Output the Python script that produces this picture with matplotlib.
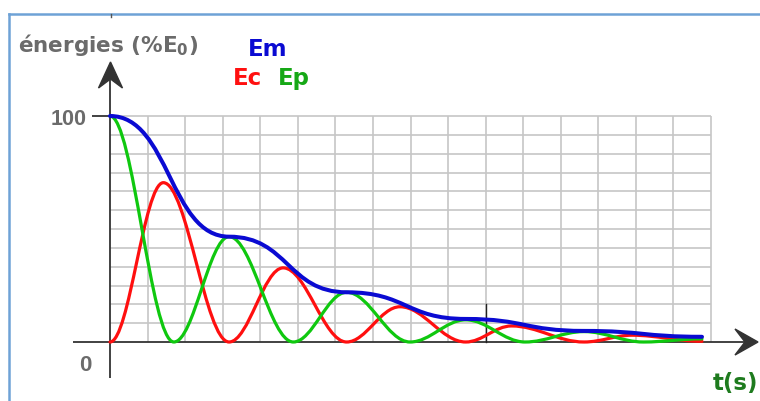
import numpy as np
import matplotlib
matplotlib.use("Agg")
import matplotlib.pyplot as plt
from matplotlib.path import Path
from matplotlib.patches import PathPatch, Polygon

# ---------------- data ----------------
# time in grid units (one vertical grid line per unit), energies in % of E0
# each point is an extremum / plateau of the curve (horizontal tangent)
t_ec = [0.0, 1.42, 3.17, 4.61, 6.30, 7.72, 9.47, 10.69, 12.62, 13.90, 15.76]
ec   = [0.0, 70.5, 0.0, 32.8, 0.0, 15.6, 0.0, 7.1, 0.0, 3.0, 0.3]

t_ep = [0.0, 1.70, 3.17, 4.88, 6.30, 7.99, 9.47, 11.05, 12.62, 14.20, 15.76]
ep   = [100.0, 0.0, 46.6, 0.0, 22.0, 0.0, 9.8, 0.0, 4.6, 0.0, 1.4]

t_em = [0.0, 3.17, 6.30, 9.47, 12.62, 15.76]
em   = [100.0, 46.6, 22.0, 10.2, 4.9, 2.3]

n_xgrid = 16          # vertical grid lines
n_ygrid = 12          # horizontal grid divisions between 0 and 100
y_max = 100
y_tick_labels = ["0", "100"]

# ---------------- figure / coordinate frame ----------------
W, H = 760, 401
PX_T0, PX_PER_T = 110.0, 37.5625
PY_V0, PX_PER_V = 342.0, 2.26

def fx(px):
    return (px - PX_T0) / PX_PER_T

def fy(py):
    return (PY_V0 - py) / PX_PER_V

fig = plt.figure(figsize=(W / 100, H / 100), dpi=100)
ax = fig.add_axes([0, 0, 1, 1])
ax.set_xlim(fx(0), fx(W))
ax.set_ylim(fy(H), fy(0))
ax.axis("off")

GRID = "#c6c6c6"
AXC = "#333333"
GRAY = "#6b6b6b"

# grid
ystep = y_max / n_ygrid
for k in range(1, n_xgrid + 1):
    ax.plot([k, k], [0, y_max], color=GRID, lw=1.2, zorder=1, solid_capstyle="butt")
for k in range(1, n_ygrid + 1):
    ax.plot([0, n_xgrid], [k * ystep, k * ystep], color=GRID, lw=1.2, zorder=1,
            solid_capstyle="butt")

# axes lines
ax.plot([0, 0], [fy(378), fy(80)], color=AXC, lw=1.3, zorder=2, solid_capstyle="butt")
ax.plot([fx(73), fx(748)], [0, 0], color=AXC, lw=1.3, zorder=2, solid_capstyle="butt")
ax.plot([fx(92), 0], [y_max, y_max], color=AXC, lw=1.3, zorder=2, solid_capstyle="butt")
ax.plot([10, 10], [0, 2 * ystep], color="#222222", lw=1.0, zorder=2)

# arrow heads
up = [(fx(110.5), fy(62)), (fx(98.5), fy(88)), (fx(110.5), fy(79)), (fx(122.5), fy(88))]
rt = [(fx(758), fy(342)), (fx(735), fy(329)), (fx(745), fy(342)), (fx(735), fy(355))]
ax.add_patch(Polygon(up, closed=True, color=AXC, zorder=3))
ax.add_patch(Polygon(rt, closed=True, color=AXC, zorder=3))

# frame (light blue border, cut by the image edges)
fig.add_artist(plt.Line2D([8.5 / W, 8.5 / W], [0, 1 - 13.5 / H],
                          transform=fig.transFigure, color="#6ea2d6", lw=1.8))
fig.add_artist(plt.Line2D([8.5 / W, 1], [1 - 13.5 / H, 1 - 13.5 / H],
                          transform=fig.transFigure, color="#6ea2d6", lw=1.8))
fig.add_artist(plt.Line2D([110.5 / W, 110.5 / W], [1 - 13.5 / H, 1 - 16.5 / H],
                          transform=fig.transFigure, color="#555555", lw=1.0))

# ---------------- smooth curves: Bezier segments with horizontal tangents ----------------
def smooth_path(t, v, handle):
    verts = [(t[0], v[0])]
    codes = [Path.MOVETO]
    for k in range(len(v) - 1):
        hk = t[k + 1] - t[k]
        verts += [(t[k] + handle * hk, v[k]),
                  (t[k + 1] - handle * hk, v[k + 1]),
                  (t[k + 1], v[k + 1])]
        codes += [Path.CURVE4] * 3
    return Path(verts, codes)

ax.add_patch(PathPatch(smooth_path(t_ec, ec, 0.363), fill=False, edgecolor="#ff0f0f",
                       lw=2.3, zorder=4, capstyle="round", joinstyle="round"))
ax.add_patch(PathPatch(smooth_path(t_ep, ep, 0.363), fill=False, edgecolor="#0fc80f",
                       lw=2.3, zorder=5, capstyle="round", joinstyle="round"))
ax.add_patch(PathPatch(smooth_path(t_em, em, 0.5), fill=False, edgecolor="#0a0ad2",
                       lw=2.9, zorder=6, capstyle="round", joinstyle="round"))

# ---------------- texts ----------------
plt.rcParams["mathtext.fontset"] = "dejavusans"
ax.text(fx(18), fy(52), r"énergies (%E$_\mathbf{0}$)", fontsize=15.5, fontweight="bold",
        family="DejaVu Sans", color=GRAY, ha="left", va="baseline")
ax.text(fx(248), fy(56), "Em", fontsize=16.5, fontweight="bold", family="DejaVu Sans",
        color="#0a0ad2", ha="left", va="baseline")
ax.text(fx(233), fy(85), "Ec", fontsize=16.5, fontweight="bold", family="DejaVu Sans",
        color="#ff1010", ha="left", va="baseline")
ax.text(fx(278), fy(85), "Ep", fontsize=16.5, fontweight="bold", family="DejaVu Sans",
        color="#16a816", ha="left", va="baseline")
ax.text(fx(87), fy(125), y_tick_labels[1], fontsize=15.5, fontweight="bold",
        family="Liberation Sans", color=GRAY, ha="right", va="baseline")
ax.text(fx(92), fy(371), y_tick_labels[0], fontsize=16, fontweight="bold",
        family="Liberation Sans", color=GRAY, ha="right", va="baseline")
ax.text(fx(713), fy(390), "t(s)", fontsize=16.5, fontweight="bold", family="DejaVu Sans",
        color="#1e7b1e", ha="left", va="baseline")

fig.savefig("out.png", dpi=100)
